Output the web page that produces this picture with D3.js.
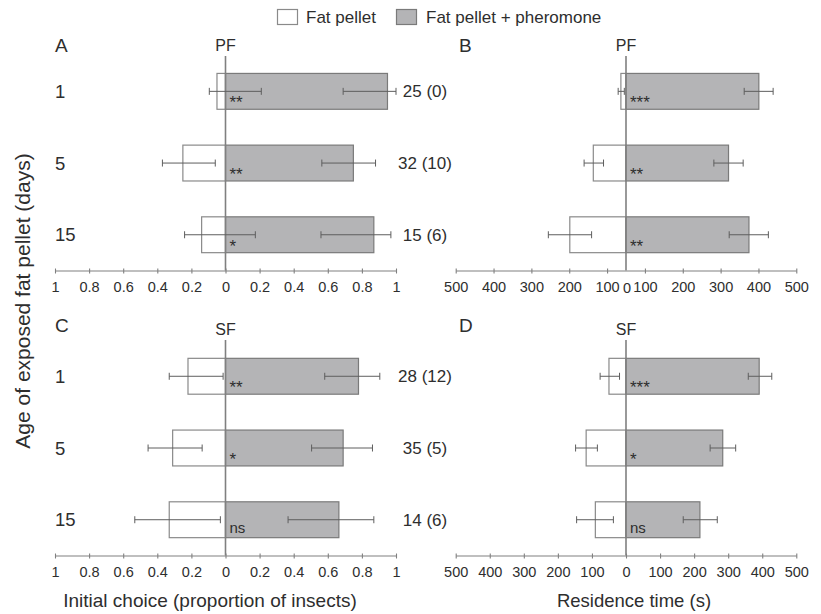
<!DOCTYPE html>
<html><head><meta charset="utf-8">
<script src="https://cdn.jsdelivr.net/npm/d3@7"></script>
<style>
body{margin:0;background:#fff}
text{font-family:"Liberation Sans",Arial,Helvetica,sans-serif;fill:#2e2e2e}
</style>
</head><body>
<svg id="chart" width="821" height="614"></svg>
<script>
// ---------- data ----------
const ages = ["1", "5", "15"];
const seriesNames = ["Fat pellet", "Fat pellet + pheromone"];

// A: PF, initial choice (proportion)
const pfChoiceFat = [0.05, 0.25, 0.14];
const pfChoicePher = [0.95, 0.75, 0.87];
const pfChoiceFatErr = [[-0.095, 0.21], [-0.37, -0.06], [-0.24, 0.175]];
const pfChoicePherErr = [[0.69, 1.0], [0.565, 0.88], [0.56, 0.97]];
const pfChoiceSig = ["**", "**", "*"];

// B: PF, residence time (s)
const pfTimeFat = [15, 96, 165];
const pfTimePher = [390, 301, 361];
const pfTimeFatErr = [[-23, -5], [-123, -66], [-228, -101]];
const pfTimePherErr = [[347, 432], [258, 344], [303, 418]];
const pfTimeSig = ["***", "**", "**"];
const pfN = ["25 (0)", "32 (10)", "15 (6)"];

// C: SF, initial choice (proportion)
const sfChoiceFat = [0.22, 0.31, 0.33];
const sfChoicePher = [0.78, 0.69, 0.665];
const sfChoiceFatErr = [[-0.33, -0.014], [-0.454, -0.137], [-0.532, -0.03]];
const sfChoicePherErr = [[0.582, 0.905], [0.505, 0.862], [0.367, 0.87]];
const sfChoiceSig = ["**", "*", "ns"];

// D: SF, residence time (s)
const sfTimeFat = [50, 117, 90];
const sfTimePher = [391, 284, 217];
const sfTimeFatErr = [[-76, -19], [-148, -84], [-145, -37]];
const sfTimePherErr = [[359, 428], [247, 322], [168, 268]];
const sfTimeSig = ["***", "*", "ns"];
const sfN = ["28 (12)", "35 (5)", "14 (6)"];

// tick labels
const choiceTicks = [-1, -0.8, -0.6, -0.4, -0.2, 0, 0.2, 0.4, 0.6, 0.8, 1];
const choiceTickLabels = ["1", "0.8", "0.6", "0.4", "0.2", "0", "0.2", "0.4", "0.6", "0.8", "1"];
const timeTicks = [-500, -400, -300, -200, -100, 0, 100, 200, 300, 400, 500];
const timeTickLabels = ["500", "400", "300", "200", "100", "0", "100", "200", "300", "400", "500"];
// panel B (as printed): ten ticks, the zero label sits on the centre line
const pfTimeTickLabels = ["500", "400", "300", "200", "100", "100", "200", "300", "400", "500"];

// ---------- layout ----------
const svg = d3.select("#chart");
const grayFill = "#b4b4b6", grayStroke = "#7a7a7a", whiteStroke = "#8a8a8a", lineCol = "#808080", errCol = "#5e5e5e";
const tickFont = 14.5;

const xChoice = d3.scaleLinear().domain([-1, 1]).range([55, 396]);
const xTime = d3.scaleLinear().domain([-500, 500]).range([455.7, 796.3]);
const xTimeTicksB = d3.scaleLinear().domain([0, pfTimeTickLabels.length - 1]).range([455.7, 796.3]);

const yTop = d3.scaleBand().domain(ages).range([55.5, 270.6]).paddingInner(0.5).paddingOuter(0.25);
const yBot = d3.scaleBand().domain(ages).range([340.4, 555.6]).paddingInner(0.5).paddingOuter(0.25);

function drawAxis(scale, tickVals, tickLabels, y) {
  const ax = d3.axisBottom(scale).tickValues(tickVals)
    .tickFormat((d, i) => tickLabels[i]).tickSize(3).tickPadding(8.5).tickSizeOuter(0);
  const g = svg.append("g").attr("transform", `translate(0,${y})`).call(ax);
  g.select(".domain").attr("stroke", lineCol).attr("stroke-width", 1.1);
  g.selectAll(".tick line").attr("stroke", lineCol).attr("y1", -2).attr("y2", 3).attr("stroke-width", 1.1);
  g.selectAll(".tick text").attr("font-size", tickFont).attr("fill", "#2e2e2e")
    .style("font-family", '"Liberation Sans", Arial, sans-serif');
  return g;
}

function drawPanel(o) {
  const { x, y, fat, pher, fatErr, pherErr, sig, axisY, topY } = o;
  const x0 = x(0);
  const g = svg.append("g");
  // bars
  g.selectAll(".fat").data(fat).join("rect")
    .attr("x", d => x(-d)).attr("width", d => x0 - x(-d))
    .attr("y", (d, i) => y(ages[i])).attr("height", y.bandwidth())
    .attr("fill", "#fff").attr("stroke", whiteStroke).attr("stroke-width", 1.2);
  g.selectAll(".pher").data(pher).join("rect")
    .attr("x", x0).attr("width", d => x(d) - x0)
    .attr("y", (d, i) => y(ages[i])).attr("height", y.bandwidth())
    .attr("fill", grayFill).attr("stroke", grayStroke).attr("stroke-width", 1.2);
  // centre line
  g.append("line").attr("x1", x0).attr("x2", x0).attr("y1", topY).attr("y2", axisY)
    .attr("stroke", lineCol).attr("stroke-width", 1.6);
  // error bars
  const errs = fatErr.map((e, i) => ({ e, i })).concat(pherErr.map((e, i) => ({ e, i })));
  errs.forEach(({ e, i }) => {
    const cy = y(ages[i]) + y.bandwidth() / 2;
    g.append("line").attr("x1", x(e[0])).attr("x2", x(e[1])).attr("y1", cy).attr("y2", cy)
      .attr("stroke", errCol).attr("stroke-width", 1);
    [e[0], e[1]].forEach(v => g.append("line").attr("x1", x(v)).attr("x2", x(v))
      .attr("y1", cy - 3.5).attr("y2", cy + 3.5).attr("stroke", errCol).attr("stroke-width", 1));
  });
  // significance
  g.selectAll(".sig").data(sig).join("text")
    .attr("x", x0 + 4)
    .attr("y", (d, i) => y(ages[i]) + y.bandwidth() / 2 + (d === "ns" ? 13 : 17))
    .attr("font-size", d => d === "ns" ? 15 : 17).attr("fill", "#333").text(d => d);
}

// Panels
drawPanel({ x: xChoice, y: yTop, fat: pfChoiceFat, pher: pfChoicePher, fatErr: pfChoiceFatErr, pherErr: pfChoicePherErr, sig: pfChoiceSig, axisY: 270.5, topY: 56 });
drawPanel({ x: xTime, y: yTop, fat: pfTimeFat, pher: pfTimePher, fatErr: pfTimeFatErr, pherErr: pfTimePherErr, sig: pfTimeSig, axisY: 270.5, topY: 56 });
drawPanel({ x: xChoice, y: yBot, fat: sfChoiceFat, pher: sfChoicePher, fatErr: sfChoiceFatErr, pherErr: sfChoicePherErr, sig: sfChoiceSig, axisY: 555.5, topY: 340 });
drawPanel({ x: xTime, y: yBot, fat: sfTimeFat, pher: sfTimePher, fatErr: sfTimeFatErr, pherErr: sfTimePherErr, sig: sfTimeSig, axisY: 555.5, topY: 340 });

// Axes
drawAxis(xChoice, choiceTicks, choiceTickLabels, 270.5);
drawAxis(xChoice, choiceTicks, choiceTickLabels, 555.5);
drawAxis(xTime, timeTicks, timeTickLabels, 555.5);
drawAxis(xTimeTicksB, d3.range(pfTimeTickLabels.length), pfTimeTickLabels, 270.5);
svg.append("text").attr("x", xTime(0) + 1).attr("y", 270.5 + 22).attr("text-anchor", "middle")
  .attr("font-size", tickFont).text("0");

// Row labels (ages)
[yTop, yBot].forEach(y => {
  svg.selectAll(null).data(ages).join("text")
    .attr("x", 55).attr("y", d => y(d) + y.bandwidth() / 2 + 6.5)
    .attr("font-size", 18.5).text(d => d);
});

// n annotations
svg.selectAll(null).data(pfN).join("text")
  .attr("x", 425).attr("y", (d, i) => yTop(ages[i]) + yTop.bandwidth() / 2 + 6)
  .attr("text-anchor", "middle").attr("font-size", 17).text(d => d);
svg.selectAll(null).data(sfN).join("text")
  .attr("x", 425).attr("y", (d, i) => yBot(ages[i]) + yBot.bandwidth() / 2 + 6)
  .attr("text-anchor", "middle").attr("font-size", 17).text(d => d);

// Panel letters and PF/SF labels
[["A", 55, 52], ["B", 459, 52], ["C", 55, 332], ["D", 459, 332]].forEach(([t, px, py]) =>
  svg.append("text").attr("x", px).attr("y", py).attr("font-size", 19).text(t));
[["PF", xChoice(0), 50.5], ["PF", xTime(0), 50.5], ["SF", xChoice(0), 335], ["SF", xTime(0), 335]].forEach(([t, px, py]) =>
  svg.append("text").attr("x", px).attr("y", py).attr("text-anchor", "middle").attr("font-size", 16).text(t));

// Legend
const legend = svg.append("g");
legend.append("rect").attr("x", 277.5).attr("y", 9.5).attr("width", 20).attr("height", 15)
  .attr("fill", "#fff").attr("stroke", whiteStroke).attr("stroke-width", 1.2);
legend.append("text").attr("x", 306).attr("y", 22.5).attr("font-size", 17).text(seriesNames[0]);
legend.append("rect").attr("x", 396.5).attr("y", 9.5).attr("width", 20).attr("height", 15)
  .attr("fill", grayFill).attr("stroke", grayStroke).attr("stroke-width", 1.2);
legend.append("text").attr("x", 426).attr("y", 22.5).attr("font-size", 17).text(seriesNames[1]);

// Axis titles
svg.append("text").attr("x", 210).attr("y", 607).attr("text-anchor", "middle")
  .attr("font-size", 19).text("Initial choice (proportion of insects)");
svg.append("text").attr("x", 634).attr("y", 607).attr("text-anchor", "middle")
  .attr("font-size", 18.5).text("Residence time (s)");
svg.append("text").attr("transform", "translate(30,301) rotate(-90)").attr("text-anchor", "middle")
  .attr("font-size", 21).text("Age of exposed fat pellet (days)");
</script>
</body></html>
